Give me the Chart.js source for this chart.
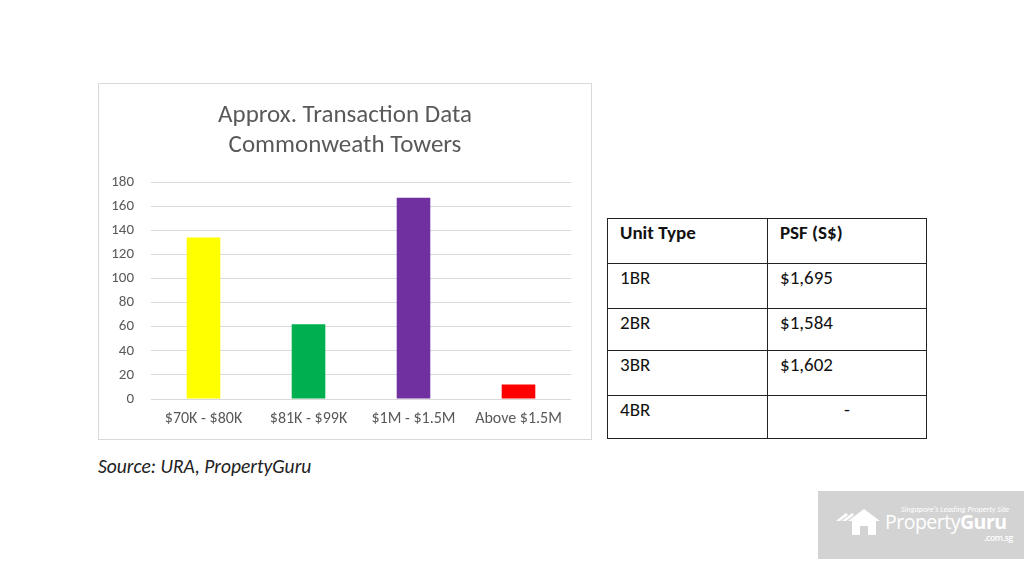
<!DOCTYPE html>
<html>
<head>
<meta charset="utf-8">
<script src="https://cdn.jsdelivr.net/npm/chart.js@4"></script>
<style>
  body { margin: 0; width: 1024px; height: 561px; background: #fff; position: relative; overflow: hidden;
         font-family: Carlito, Lato, "Open Sans", sans-serif; }
  #chartBox { position: absolute; left: 98px; top: 83px; width: 492px; height: 355px; border: 1px solid #d9d9d9; }
  #source { position: absolute; left: 98px; top: 454px; font-size: 19.5px; font-style: italic; color: #222; }
  table { position: absolute; left: 607px; top: 218px; border-collapse: collapse; font-size: 19px; color: #111; }
  td { border: 1.5px solid #222; vertical-align: top; padding: 2px 0 0 12px; box-sizing: border-box; line-height: 23px; }
  td.c1 { width: 160px; }
  td.c2 { width: 159px; }
  td.dash { text-align: center; padding-left: 0; }
  #logo { position: absolute; left: 818px; top: 491px; width: 206px; height: 68px; background: #d3d3d3; color: #fff; }
  #logo .tag { position: absolute; left: 83px; top: 13px; font-size: 8px; font-style: italic; white-space: nowrap; }
  #logo .name { position: absolute; left: 67px; top: 17px; font-size: 19.5px; font-family: "Open Sans", sans-serif; letter-spacing: -0.5px; white-space: nowrap; }
  #logo .dom { position: absolute; left: 166px; top: 41px; font-size: 8.5px; font-weight: 600; font-family: "Open Sans", sans-serif; letter-spacing: -0.3px; }
</style>
</head>
<body>
<div id="chartBox"><canvas id="chart"></canvas></div>
<div id="source">Source: URA, PropertyGuru</div>
<table>
  <tr style="height:45px"><td class="c1"><b>Unit Type</b></td><td class="c2"><b>PSF (S$)</b></td></tr>
  <tr style="height:45px"><td class="c1">1BR</td><td class="c2">$1,695</td></tr>
  <tr style="height:42px"><td class="c1">2BR</td><td class="c2">$1,584</td></tr>
  <tr style="height:45px"><td class="c1">3BR</td><td class="c2">$1,602</td></tr>
  <tr style="height:43px"><td class="c1">4BR</td><td class="c2 dash">-</td></tr>
</table>
<div id="logo">
  <svg style="position:absolute;left:16px;top:18px" width="50" height="26" viewBox="0 0 50 26">
    <polygon points="2,12 12,4 14,6 6,12" fill="#fff"/>
    <polygon points="8,12 18,4 20,6 12,12" fill="#fff"/>
    <polygon points="14,12 30,0 46,12 42,12 42,26 18,26 18,12" fill="#fff"/>
    <rect x="26" y="17" width="8" height="9" fill="#d3d3d3"/>
  </svg>
  <div class="tag">Singapore's Leading Property Site</div>
  <div class="name">Property<b>Guru</b></div>
  <div class="dom">.com.sg</div>
</div>
<script>
const categories = ['$70K - $80K', '$81K - $99K', '$1M - $1.5M', 'Above $1.5M'];
const transactions = [134, 62, 167, 12];
const barColors = ['#ffff00', '#00b050', '#7030a0', '#ff0000'];
const titleLines = ['Approx. Transaction Data', 'Commonweath Towers'];

const font = 'Carlito, Lato, "Open Sans", sans-serif';

new Chart(document.getElementById('chart'), {
  type: 'bar',
  data: {
    labels: categories,
    datasets: [{
      data: transactions,
      backgroundColor: barColors,
      barPercentage: 0.32,
      categoryPercentage: 1
    }]
  },
  options: {
    responsive: true,
    maintainAspectRatio: false,
    animation: false,
    layout: { padding: { left: 0, right: 0, top: 0, bottom: 0 } },
    plugins: {
      legend: { display: false },
      tooltip: { enabled: false },
      title: {
        display: true,
        text: titleLines,
        color: '#595959',
        font: { family: font, size: 25, weight: 'normal', lineHeight: 1.2 },
        padding: { top: 17, bottom: 21 }
      }
    },
    scales: {
      x: {
        afterFit: (axis) => { axis.height = 40; },
        grid: { display: false, drawTicks: false },
        border: { display: false },
        ticks: { color: '#595959', font: { family: font, size: 16 }, padding: 10 }
      },
      y: {
        min: 0,
        max: 180,
        afterFit: (axis) => { axis.width = 52; },
        grid: { color: '#d9d9d9', drawTicks: false },
        border: { display: false },
        ticks: { stepSize: 20, color: '#595959', font: { family: font, size: 15 }, padding: 17 }
      },
      // empty right margin so the plot ends where the reference does
      yRight: {
        position: 'right',
        min: 0,
        max: 180,
        afterFit: (axis) => { axis.width = 20; },
        grid: { display: false, drawTicks: false },
        border: { display: false },
        ticks: { display: false }
      }
    }
  }
});
</script>
</body>
</html>
